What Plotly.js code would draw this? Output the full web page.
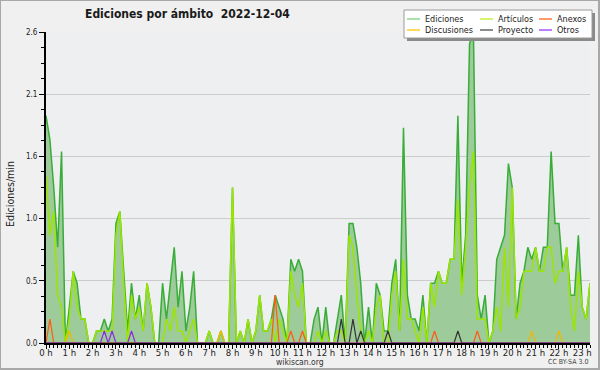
<!DOCTYPE html>
<html><head><meta charset="utf-8">
<script src="https://cdn.plot.ly/plotly-3.0.1.min.js"></script>
<style>
html,body{margin:0;padding:0;background:#f0f0f0;}
#wrap{position:relative;width:600px;height:370px;}
#chart{width:600px;height:370px;}
#frame{position:absolute;left:0;top:0;width:600px;height:370px;box-sizing:border-box;border:1px solid #a8a8a8;border-right-width:2px;border-bottom-width:2px;pointer-events:none;}
</style>
</head><body>
<div id="wrap"><div id="chart"></div><div id="frame"></div></div>
<script>
// 10-minute bins, 00:00 .. 23:20 (141 points), values in edits per minute
const ediciones = [
1.9,1.7,1.3,0.8,1.6,0.0,0.3,0.6,0.5,0.2,
0.2,0.0,0.0,0.1,0.1,0.2,0.1,0.2,1.0,1.1,
0.6,0.1,0.5,0.2,0.4,0.1,0.5,0.3,0.0,0.0,
0.5,0.2,0.5,0.8,0.3,0.6,0.1,0.3,0.6,0.0,
0.0,0.0,0.1,0.0,0.0,0.1,0.0,0.0,1.3,0.0,
0.1,0.0,0.2,0.0,0.1,0.4,0.1,0.1,0.2,0.4,
0.3,0.2,0.0,0.7,0.6,0.7,0.6,0.0,0.0,0.2,
0.3,0.0,0.3,0.0,0.0,0.2,0.4,0.0,1.0,1.0,
0.8,0.5,0.0,0.3,0.0,0.5,0.4,0.1,0.1,0.5,
0.7,0.1,1.8,0.4,0.2,0.2,0.1,0.4,0.0,0.5,
0.5,0.6,0.5,0.5,0.7,0.7,1.9,0.5,0.9,2.5,
2.6,0.4,0.2,0.4,0.0,0.1,0.7,0.8,0.9,1.5,
1.3,0.2,0.5,0.6,0.8,0.7,0.8,0.6,0.8,0.8,
1.6,1.0,1.0,0.6,0.8,0.4,0.4,0.9,0.3,0.2,0.5];
const articulos = [
1.4,0.9,1.1,0.4,0.3,0.0,0.2,0.6,0.3,0.2,
0.2,0.0,0.0,0.1,0.1,0.1,0.1,0.1,0.9,1.1,
0.5,0.0,0.4,0.2,0.3,0.1,0.5,0.3,0.0,0.0,
0.0,0.2,0.1,0.3,0.1,0.1,0.0,0.1,0.2,0.0,
0.0,0.0,0.1,0.0,0.0,0.1,0.0,0.0,1.3,0.0,
0.1,0.0,0.2,0.0,0.1,0.4,0.1,0.1,0.2,0.0,
0.2,0.1,0.0,0.6,0.4,0.3,0.5,0.0,0.0,0.0,
0.1,0.0,0.1,0.0,0.0,0.1,0.1,0.0,0.9,0.8,
0.4,0.1,0.0,0.1,0.0,0.3,0.4,0.0,0.0,0.4,
0.6,0.1,0.7,0.2,0.2,0.1,0.0,0.3,0.0,0.5,
0.3,0.6,0.5,0.5,0.7,0.7,1.2,0.4,0.8,1.3,
1.6,0.2,0.2,0.2,0.0,0.1,0.3,0.1,0.8,0.3,
1.3,0.2,0.3,0.6,0.6,0.6,0.8,0.6,0.6,0.8,
0.8,0.5,0.6,0.6,0.8,0.3,0.1,0.6,0.3,0.2,0.5];
const anexos = [
0,0.2,0,0,0,0,0,0,0,0,
0,0,0,0,0,0,0,0,0,0,
0,0,0,0,0,0,0,0,0,0,
0,0,0,0,0,0,0,0,0,0,
0,0,0,0,0,0,0,0,0,0,
0,0,0,0,0,0,0,0,0,0.4,
0,0,0,0.1,0,0,0.1,0,0,0,
0,0,0,0,0,0,0,0,0,0,
0,0,0,0,0,0,0,0,0,0,
0,0,0,0,0,0,0,0,0,0,
0.1,0,0,0,0,0,0,0,0,0,
0,0.1,0,0,0,0,0,0,0,0,
0,0,0,0,0,0,0,0,0,0,
0,0,0,0,0,0,0,0,0,0,0];
const discusiones = [
0,0,0,0,0,0,0.1,0,0,0,
0,0,0,0,0,0,0,0,0,0,
0,0,0,0,0,0,0,0,0,0,
0,0,0,0,0,0,0,0,0,0,
0,0,0,0,0,0.1,0,0,0,0,
0,0,0,0,0,0,0,0,0,0,
0,0,0,0,0,0,0,0,0,0,
0,0,0,0,0,0,0,0,0,0,
0,0,0,0,0,0,0,0,0,0,
0,0,0,0,0,0,0,0,0,0,
0,0,0,0,0,0,0,0,0,0,
0,0,0,0,0,0,0,0,0,0,
0,0,0,0,0,0.1,0,0,0,0,
0,0,0.1,0,0,0,0,0,0,0,0];
const proyecto = [
0,0,0,0,0,0,0,0,0,0,
0,0,0,0,0,0,0,0,0,0,
0,0,0,0,0,0,0,0,0,0,
0,0,0,0,0,0,0,0,0,0,
0,0,0,0,0,0,0,0,0,0,
0,0,0,0,0,0,0,0,0,0,
0,0,0,0,0,0,0,0,0,0,
0,0,0,0,0,0,0.2,0,0,0.2,
0,0.1,0,0,0,0,0,0,0.1,0,
0,0,0,0,0,0,0,0,0,0,
0,0,0,0,0,0,0.1,0,0,0,
0,0,0,0,0,0,0,0,0,0,
0,0,0,0,0,0,0,0,0,0,
0,0,0,0,0,0,0,0,0,0,0];
const otros = [
0,0,0,0,0,0,0,0,0,0,
0,0,0,0,0,0.1,0,0.1,0,0,
0,0,0.1,0,0,0,0,0,0,0,
0,0,0,0,0,0,0,0,0,0,
0,0,0,0,0,0,0,0,0,0,
0,0,0,0,0,0,0,0,0,0,
0,0,0,0,0,0,0,0,0,0,
0,0,0,0,0,0,0,0,0,0,
0,0,0,0,0,0,0,0,0,0,
0,0,0,0,0,0,0,0,0,0,
0,0,0,0,0,0,0,0,0,0,
0,0,0,0,0,0,0,0,0,0,
0,0,0,0,0,0,0,0,0,0,
0,0,0,0,0,0,0,0,0,0,0];
const hourTicks = [0,1,2,3,4,5,6,7,8,9,10,11,12,13,14,15,16,17,18,19,20,21,22,23];
const hourLabels = ["0 h","1 h","2 h","3 h","4 h","5 h","6 h","7 h","8 h","9 h","10 h","11 h","12 h","13 h","14 h","15 h","16 h","17 h","18 h","19 h","20 h","21 h","22 h","23 h"];
const yTickVals = [0, 0.52, 1.04, 1.56, 2.08, 2.6];
const yTickText = ["0.0","0.5","1.0","1.6","2.1","2.6"];
const seriesNames = ["Ediciones","Artículos","Anexos","Discusiones","Proyecto","Otros"];
const seriesColors = ["#8fd88f","#c8f03c","#ff7a3c","#ffcc22","#666666","#a855ff"];
const lineColors = ["#38ad38","#9be600","#ff5a14","#f0b800","#333333","#8a2be2"];

const hours = ediciones.map((_, i) => i / 6);

const F = "DejaVu Sans Condensed, DejaVu Sans, sans-serif";
const W = 600, H = 370, ML = 46, MR = 10, MT = 32, MB = 27;
const PW = W - ML - MR, PH = H - MT - MB;
const px = x => (x - ML) / PW;
const py = y => (H - MB - y) / PH;

const traces = [
  {x: hours, y: ediciones, type: 'scatter', mode: 'lines', fill: 'tozeroy',
   fillcolor: '#9ecb9a', line: {color: lineColors[0], width: 1.5}},
  {x: hours, y: articulos, type: 'scatter', mode: 'lines', line: {color: lineColors[1], width: 1.5}},
  {x: hours, y: anexos, type: 'scatter', mode: 'lines', line: {color: lineColors[2], width: 1.2}},
  {x: hours, y: discusiones, type: 'scatter', mode: 'lines', line: {color: lineColors[3], width: 1.2}},
  {x: hours, y: proyecto, type: 'scatter', mode: 'lines', line: {color: lineColors[4], width: 1.2}},
  {x: hours, y: otros, type: 'scatter', mode: 'lines', line: {color: lineColors[5], width: 1.2}}
];

// custom legend (3 columns x 2 rows)
const legCols = [407, 480, 539];
const legRows = [19, 30];
const shapes = [
  {type:'rect', xref:'paper', yref:'paper', x0:px(407), x1:px(595), y0:py(41), y1:py(13),
   fillcolor:'#8a8a8a', line:{width:0}, layer:'above'},
  {type:'rect', xref:'paper', yref:'paper', x0:px(404), x1:px(592), y0:py(38), y1:py(10),
   fillcolor:'#ffffff', line:{color:'#9a9a9a', width:1}, layer:'above'}
];
const annotations = [];
seriesNames.forEach((name, i) => {
  const c = i % 3, r = Math.floor(i / 3);
  const x0 = legCols[c];
  shapes.push({type:'line', xref:'paper', yref:'paper', x0:px(x0), x1:px(x0 + 13),
    y0:py(legRows[r]), y1:py(legRows[r]), line:{color: seriesColors[i], width: 1.5}, layer:'above'});
  annotations.push({xref:'paper', yref:'paper', x:px(x0 + 16), y:py(legRows[r]), xanchor:'left', yanchor:'middle',
    text: name, showarrow:false, font:{family:F, size:9, color:'#222'}});
});
annotations.push({xref:'paper', yref:'paper', x:px(300), y:py(362), xanchor:'center', yanchor:'middle',
  text:'wikiscan.org', showarrow:false, font:{family:F, size:8.5, color:'#333'}});
annotations.push({xref:'paper', yref:'paper', x:px(590), y:py(362), xanchor:'right', yanchor:'middle',
  text:'CC BY-SA 3.0', showarrow:false, font:{family:F, size:7, color:'#444'}});
annotations.push({xref:'paper', yref:'paper', x:px(10), y:py(194), xanchor:'center', yanchor:'middle',
  text:'Ediciones/min', textangle:-90, showarrow:false, font:{family:F, size:10.5, color:'#222'}});

const layout = {
  width: W, height: H,
  margin: {l: ML, r: MR, t: MT, b: MB, pad: 0},
  paper_bgcolor: '#f0f0f0',
  plot_bgcolor: '#eeeff1',
  showlegend: false,
  title: {text: 'Ediciones por ámbito  2022-12-04', font: {family: F, size: 12, color: '#1a1a1a', weight: 'bold'},
    x: 85 / W, xanchor: 'left', xref: 'container', y: 1 - 14 / H, yanchor: 'middle', yref: 'container'},
  xaxis: {
    range: [0, 140 / 6], tickvals: hourTicks, ticktext: hourLabels,
    showgrid: false, zeroline: false, showline: true, linecolor: '#000', linewidth: 2,
    ticks: 'outside', ticklen: 4, tickwidth: 1, tickcolor: '#000', ticklabelstandoff: -4,
    minor: {dtick: 1 / 6, tick0: 0, ticks: 'outside', ticklen: 3, tickwidth: 1, tickcolor: '#000', showgrid: false},
    tickfont: {family: F, size: 9.5, color: '#222'}, fixedrange: true
  },
  yaxis: {
    range: [0, 2.6], tickvals: yTickVals, ticktext: yTickText,
    showgrid: true, gridcolor: '#cccccc', gridwidth: 1, zeroline: false,
    showline: true, linecolor: '#000', linewidth: 2,
    ticks: 'outside', ticklen: 5, tickwidth: 1, tickcolor: '#000',
    minor: {dtick: 0.13, tick0: 0, ticks: 'outside', ticklen: 3, tickwidth: 1, tickcolor: '#000', showgrid: false},
    tickfont: {family: F, size: 8, color: '#222'}, fixedrange: true
  },
  shapes: shapes,
  annotations: annotations
};

Plotly.newPlot('chart', traces, layout, {staticPlot: true, displayModeBar: false});
</script>
</body></html>
